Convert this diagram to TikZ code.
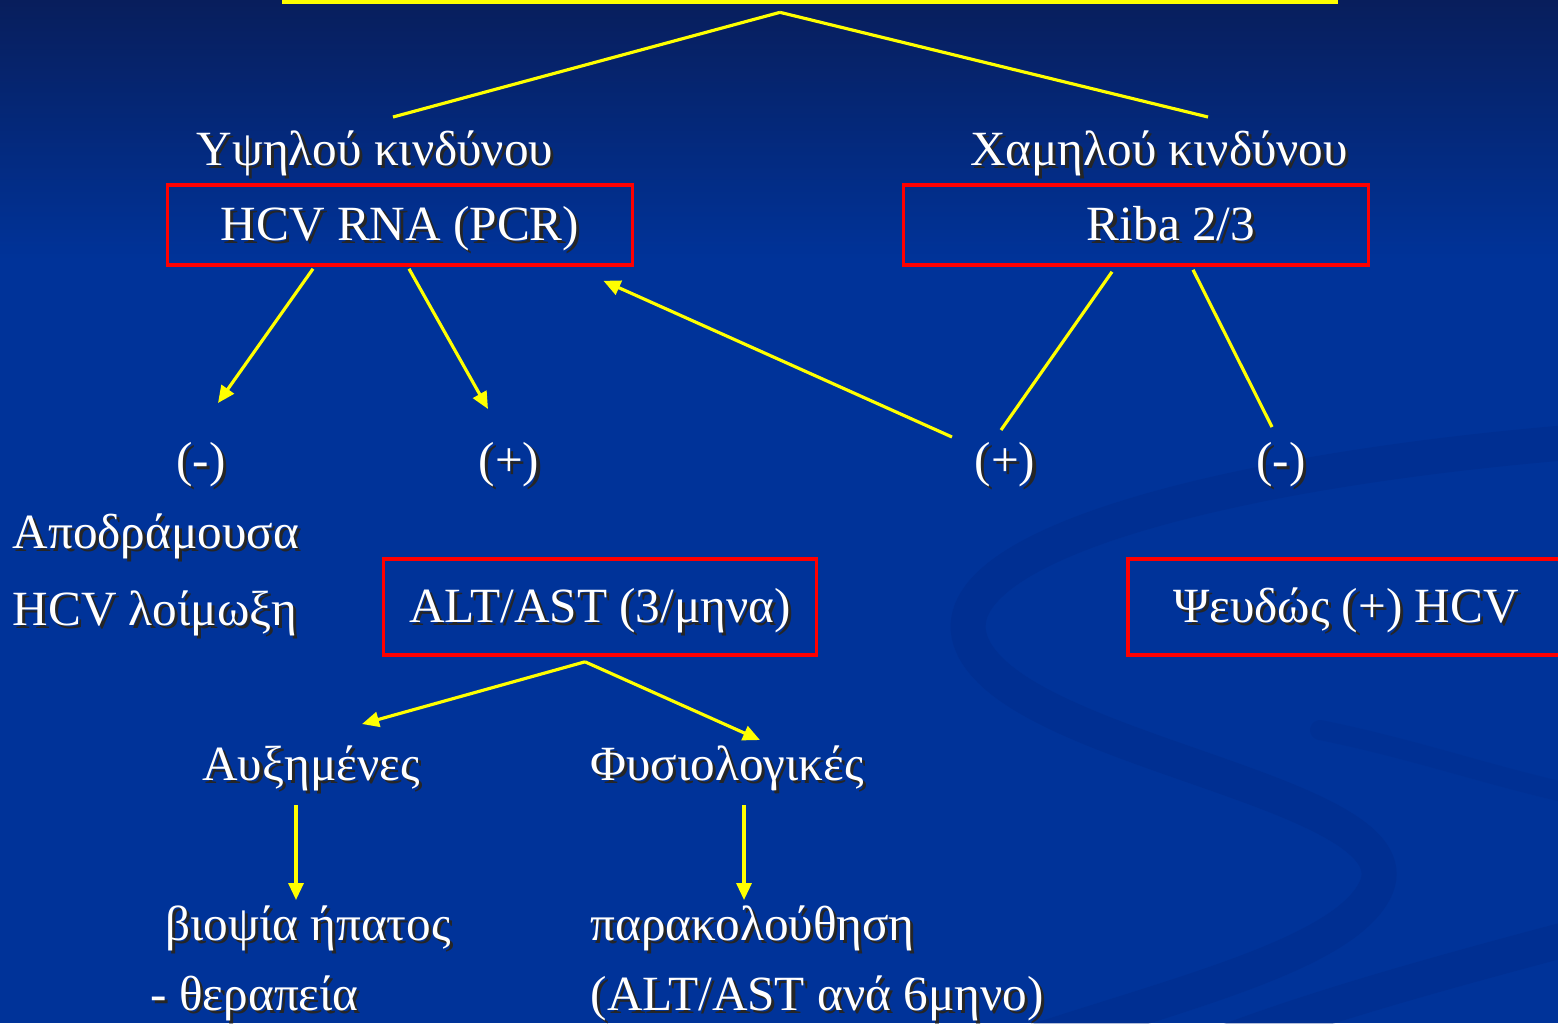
\documentclass[tikz,border=0pt]{standalone}
\usepackage{fontspec}
\setmainfont{Liberation Serif}
\usepackage{tikz}
\usetikzlibrary{calc, positioning, arrows.meta}
\definecolor{bgblue}{RGB}{0,51,153}
\definecolor{navy}{RGB}{8,30,92}
\definecolor{swoosh}{RGB}{0,40,130}
\definecolor{boxred}{RGB}{255,0,0}
\definecolor{lineyellow}{RGB}{255,255,0}
\newcommand{\shtxt}[1]{\makebox[0pt][l]{\hspace{0.9pt}\raisebox{-0.9pt}{\color{black!85}#1}}#1}
\tikzset{
    txt/.style={text=white, font=\fontsize{14}{22}\selectfont, inner sep=0pt, anchor=base},
    testbox/.style={rectangle, draw=boxred, line width=1pt, text=white, font=\fontsize{14}{22}\selectfont, inner sep=0pt, text height=0.98em, text depth=0.12em},
    topbox/.style={rectangle, draw=lineyellow, line width=1.3pt, minimum width=10.5cm, minimum height=1.2cm},
    link/.style={draw=lineyellow, line width=0.9pt},
    arrow/.style={link, -{Triangle[length=0.17cm, width=0.15cm]}},
    band/.style={draw=swoosh, line width=0.35cm, opacity=0.3, line cap=round}
}

\begin{document}
\begin{tikzpicture}[x=0.01cm, y=-0.01cm]
        \useasboundingbox (0,0) rectangle (1558,1023);
        % Background
        \fill[bgblue] (0,0) rectangle (1558,1023);
        \shade[top color=navy, bottom color=bgblue] (0,0) rectangle (1558,260);
        \draw[band] (1600,440) .. controls (1200,470) and (880,560) .. (990,670) .. controls (1080,760) and (1420,800) .. (1375,890) .. controls (1340,960) and (1150,1000) .. (980,1060);
        \draw[band] (1620,925) .. controls (1450,970) and (1300,1010) .. (1180,1060);
        \draw[band, line width=0.2cm, opacity=0.2] (1320,730) .. controls (1420,750) and (1500,780) .. (1600,800);

        % Top
        \node[topbox] (Top) at (810,-58) {};
        \coordinate (Apex) at ($(Top.south)+(-30,8)$);

        % Risk groups
        \node[txt] (HighRisk) at (375,165) {\shtxt{Υψηλού κινδύνου}};
        \node[txt] (LowRisk) at (1159,165) {\shtxt{Χαμηλού κινδύνου}};
        \node[testbox, minimum width=4.65cm, minimum height=0.8cm] (HCV) at (400,225) {\shtxt{HCV RNA (PCR)}};
        \node[testbox, minimum width=4.65cm, minimum height=0.8cm] (Riba) at (1136,225) {\hspace*{0.7cm}\shtxt{Riba 2/3}};

        % Results
        \node[txt] (NegA) at (201,476) {\shtxt{(-)}};
        \node[txt] (PosA) at (509,476) {\shtxt{(+)}};
        \node[txt] (PosB) at (1005,476) {\shtxt{(+)}};
        \node[txt] (NegB) at (1281,476) {\shtxt{(-)}};
        \node[txt, anchor=base west] (Resolved) at (12,548) {\shtxt{Αποδράμουσα}};
        \node[txt, anchor=base west] (ResolvedB) at (12,625) {\shtxt{HCV λοίμωξη}};
        \node[testbox, minimum width=4.33cm, minimum height=0.96cm] (ALT) at (600,607) {\shtxt{ALT/AST (3/μηνα)}};
        \node[testbox, minimum width=4.36cm, minimum height=0.96cm] (FalsePos) at (1346,607) {\shtxt{Ψευδώς (+) HCV}};

        % Follow-up
        \node[txt] (Raised) at (311,780) {\shtxt{Αυξημένες}};
        \node[txt] (Normal) at (727,780) {\shtxt{Φυσιολογικές}};
        \node[txt] (Biopsy) at (308,940) {\shtxt{βιοψία ήπατος}};
        \node[txt, anchor=base west] (Therapy) at (150,1010) {\shtxt{- θεραπεία}};
        \node[txt, anchor=base west] (Follow) at (590,940) {\shtxt{παρακολούθηση}};
        \node[txt, anchor=base west] (FollowB) at (590,1010) {\shtxt{(ALT/AST ανά 6μηνο)}};

        % Lines
        \draw[link] (Apex) -- ($(HighRisk.base)+(18,-48)$);
        \draw[link] (Apex) -- ($(LowRisk.base)+(49,-48)$);
        \draw[arrow] ($(HCV.south)+(-87,2)$) -- ($(NegA.base)+(17,-73)$);
        \draw[arrow] ($(HCV.south)+(9,2)$) -- ($(PosA.base)+(-21,-67)$);
        \draw[link] ($(Riba.south)+(-24,5)$) -- ($(PosB.base)+(-4,-46)$);
        \draw[link] ($(Riba.south)+(57,3)$) -- ($(NegB.base)+(-9,-49)$);
        \draw[arrow] ($(PosB.base)+(-53,-39)$) -- ($(HCV.south east)+(-31,14)$);
        \coordinate (AltApex) at ($(ALT.south)+(-15,5)$);
        \draw[arrow] (AltApex) -- ($(Raised.base)+(51,-56)$);
        \draw[arrow] (AltApex) -- ($(Normal.base)+(33,-40)$);
        \draw[arrow] ($(Raised.base)+(-15,25)$) -- ($(Biopsy.base)+(-12,-40)$);
        \draw[arrow] ($(Normal.base)+(17,25)$) -- ($(Follow.base west)+(154,-40)$);
    \end{tikzpicture}
\end{document}
